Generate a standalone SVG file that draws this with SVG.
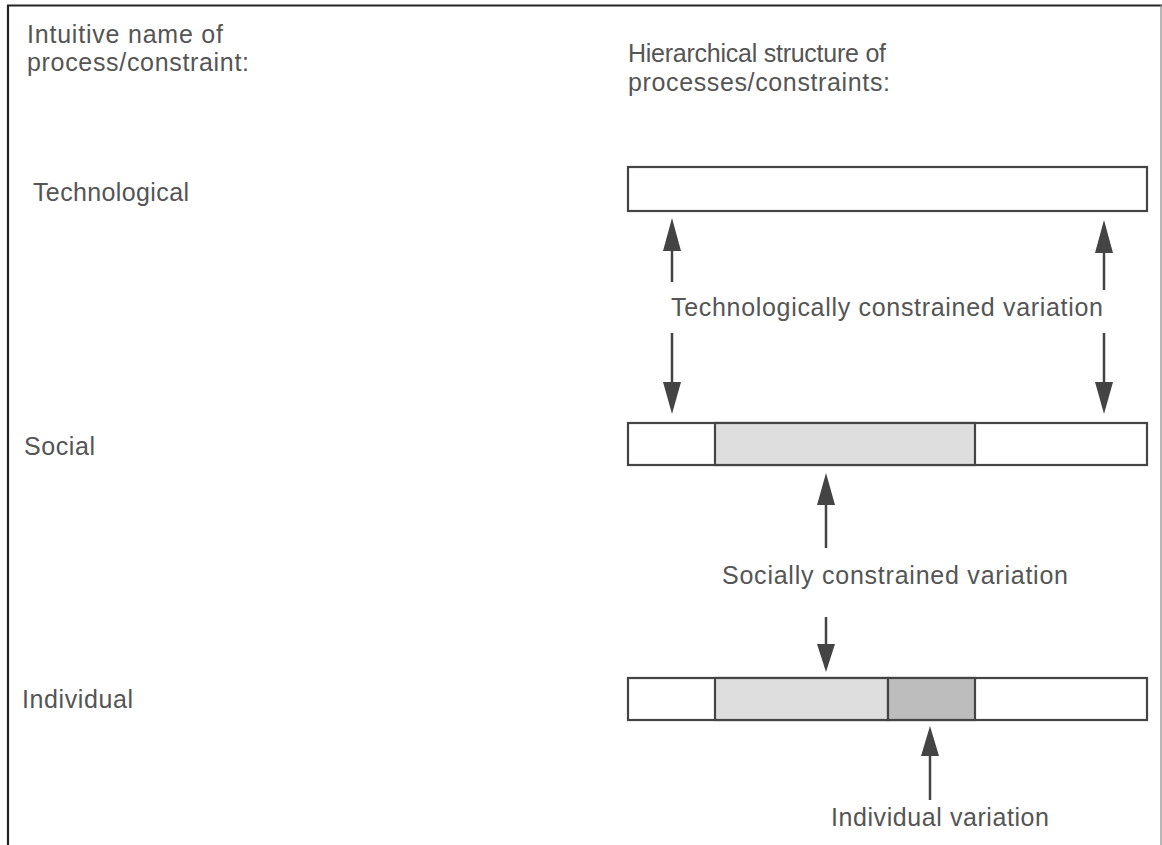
<svg xmlns="http://www.w3.org/2000/svg" width="1162" height="845" viewBox="0 0 1162 845">
<style>
  text { font-family: "Liberation Sans", Arial, sans-serif; font-size: 25px; fill: #555555; }
  .bar { fill: #ffffff; stroke: #444; stroke-width: 2.2; }
  .light { fill: #dedede; stroke: #444; stroke-width: 2.2; }
  .dark { fill: #bdbdbd; stroke: #444; stroke-width: 2.2; }
  .shaft { stroke: #444; stroke-width: 2.5; fill: none; }
  .head { fill: #444; }
</style>
<rect width="1162" height="845" fill="#ffffff"/>
<g id="frame">
  <line x1="8" y1="5" x2="8" y2="845" stroke="#222" stroke-width="2.2"/>
  <line x1="7" y1="5.5" x2="1162" y2="5.5" stroke="#222" stroke-width="2.2"/>
  <line x1="1161" y1="5" x2="1161" y2="845" stroke="#888" stroke-width="1.2"/>
</g>
<g id="headers">
  <text x="27" y="43" textLength="196" lengthAdjust="spacing">Intuitive name of</text>
  <text x="27" y="71" textLength="222" lengthAdjust="spacing">process/constraint:</text>
  <text x="628" y="62" textLength="258" lengthAdjust="spacing">Hierarchical structure of</text>
  <text x="628" y="91" textLength="262" lengthAdjust="spacing">processes/constraints:</text>
</g>
<g id="level-technological">
  <text x="33" y="201" textLength="156" lengthAdjust="spacing">Technological</text>
  <rect class="bar" x="628" y="167" width="519" height="44"/>
</g>
<g id="level-social">
  <text x="24" y="455" textLength="71" lengthAdjust="spacing">Social</text>
  <rect class="bar" x="628" y="423" width="519" height="42"/>
  <rect class="light" x="715" y="423" width="260" height="42"/>
</g>
<g id="level-individual">
  <text x="22" y="708" textLength="111" lengthAdjust="spacing">Individual</text>
  <rect class="bar" x="628" y="678" width="519" height="42"/>
  <rect class="light" x="715" y="678" width="173" height="42"/>
  <rect class="dark" x="888" y="678" width="87" height="42"/>
</g>
<g id="labels">
  <text x="671" y="316" textLength="432" lengthAdjust="spacing">Technologically constrained variation</text>
  <text x="722" y="584" textLength="346" lengthAdjust="spacing">Socially constrained variation</text>
  <text x="831" y="826" textLength="218" lengthAdjust="spacing">Individual variation</text>
</g>
<g id="connectors">
  <line class="shaft" x1="672" y1="245" x2="672" y2="282"/>
  <polygon class="head" points="672,218 663,251 681,251"/>
  <line class="shaft" x1="1104" y1="245" x2="1104" y2="290"/>
  <polygon class="head" points="1104,220 1095,253 1113,253"/>
  <line class="shaft" x1="672" y1="333" x2="672" y2="390"/>
  <polygon class="head" points="672,414 663,382 681,382"/>
  <line class="shaft" x1="1104" y1="333" x2="1104" y2="390"/>
  <polygon class="head" points="1104,414 1095,382 1113,382"/>
  <line class="shaft" x1="826" y1="498" x2="826" y2="548"/>
  <polygon class="head" points="826,473 817,505 835,505"/>
  <line class="shaft" x1="826" y1="617" x2="826" y2="650"/>
  <polygon class="head" points="826,672 817,644 835,644"/>
  <line class="shaft" x1="930" y1="750" x2="930" y2="800"/>
  <polygon class="head" points="930,726 921,756 939,756"/>
</g>
</svg>
